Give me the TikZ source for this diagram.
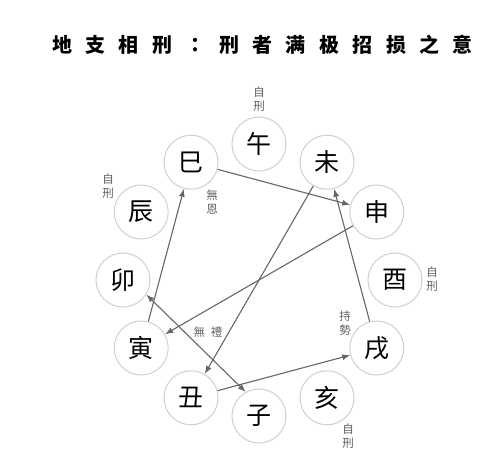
\documentclass[tikz,border=0pt]{standalone}
\usepackage{fontspec}
\usetikzlibrary{arrows.meta}
\newfontfamily\cjk{Noto Sans CJK TC}
\definecolor{ring}{HTML}{CFCFCF}
\definecolor{linegray}{HTML}{666666}
\definecolor{notegray}{HTML}{5F5F5F}
\newcommand\tsp{\hspace{13.4pt}}
\tikzset{
  branch/.style={circle,draw=ring,line width=1pt,minimum size=54pt,inner sep=0pt,font=\cjk\fontsize{25}{25}\selectfont},
  punish/.style={draw=linegray,line width=1.1pt,-{Latex[length=8pt,width=6pt]}},
  note/.style={text=notegray,align=center,inner sep=0pt,font=\cjk\fontsize{11.5}{13.5}\selectfont},
}
\begin{document}
\begin{tikzpicture}[x=1pt,y=1pt]
\useasboundingbox (0,0) rectangle (500,-459);
\node[font=\cjk\bfseries\fontsize{20}{20}\selectfont] (title) at (262.5,-45) {地\tsp 支\tsp 相\tsp 刑\tsp ：\tsp 刑\tsp 者\tsp 满\tsp 极\tsp 招\tsp 损\tsp 之\tsp 意};
% twelve branches on a ring
\begin{scope}[shift={(259,-280)}]
\foreach \name/\ch/\ang in {wu/午/90,wei/未/60,shen/申/30,you/酉/0,xu/戌/-30,hai/亥/-60,zi/子/-90,chou/丑/-120,yin/寅/-150,mao/卯/180,chen/辰/150,si/巳/120}
  \node[branch] (\name) at (\ang:136) {\ch};
\end{scope}
% punishments
\draw[punish] (si) -- (shen);
\draw[punish] (shen) -- (yin);
\draw[punish] (yin) -- (si);
\draw[punish] (wei) -- (chou);
\draw[punish] (chou) -- (xu);
\draw[punish] (xu) -- (wei);
\draw[punish,{Latex[length=8pt,width=6pt]}-{Latex[length=8pt,width=6pt]}] (mao.-32) -- (zi.119);
% notes
\node[note] (selfwu) at (259,-99) {自\\刑};
\node[note] (selfchen) at (108,-186) {自\\刑};
\node[note] (wuen) at (212,-202) {無\\恩};
\node[note] (selfyou) at (432,-279) {自\\刑};
\node[note] (wuli) at (208,-332) {無\hspace{6pt}禮};
\node[note] (chishi) at (345,-323) {持\\勢};
\node[note] (selfhai) at (348,-436) {自\\刑};
\end{tikzpicture}
\end{document}
